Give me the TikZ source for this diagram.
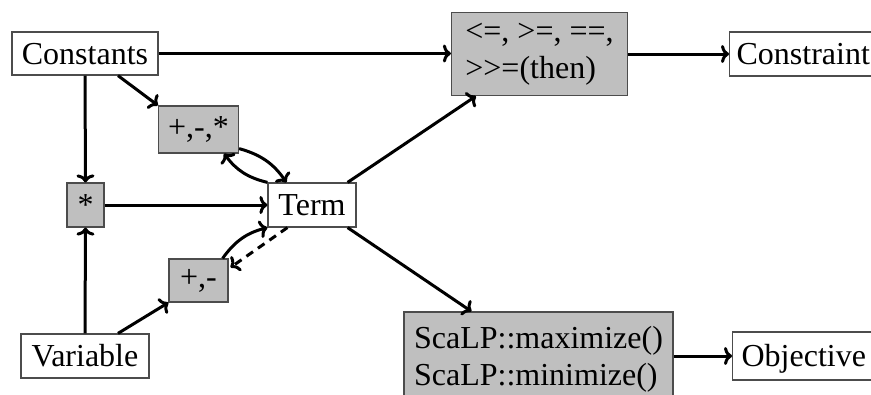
\documentclass[tikz,border=0pt]{standalone}
\usepackage{fontspec}
\setmainfont{Liberation Serif}[Ligatures=TeXOff]
\usetikzlibrary{arrows.meta,calc}

\begin{document}
\begin{tikzpicture}[x=1pt,y=-1pt,
  every node/.style={font=\fontsize{32}{37}\selectfont},
  plain/.style={draw=black!70, line width=1.2pt, fill=white, inner sep=0pt},
  single/.style={plain, text height=21pt, text depth=0pt},
  op/.style={plain, fill=black!25},
  flow/.style={line width=3pt, -{To[length=8pt,width=18pt]}},
  back/.style={flow, dash pattern=on 8pt off 6pt},
]
\useasboundingbox (0,0) rectangle (871,394);
\clip (0,0) rectangle (871,394);

% inputs
\node[single, minimum width=146pt, minimum height=43pt] (cst) at (85,53.5) {Constants};
\node[single, minimum width=128pt, minimum height=44pt] (var) at (85,356) {Variable};

% operators
\node[op, minimum width=80pt, minimum height=47pt] (arith) at (198.5,129.5) {+,-,*};
\node[op, minimum width=37pt, minimum height=44pt] (mul) at (85.5,205) {*};
\node[op, minimum width=59pt, minimum height=43pt] (addsub) at (198.5,280.5) {+,-};
\node[single, minimum width=88pt, minimum height=44pt] (term) at (312,205) {Term};
\node[op, align=left, minimum width=176pt, minimum height=83pt] (cmp) at (539.5,54) {<=, >=, ==,\\>>=(then)};
\node[op, align=left, minimum width=269pt, minimum height=95pt] (opt) at (538.5,359.5) {ScaLP::maximize()\\ScaLP::minimize()};

% results
\node[single, anchor=west, inner xsep=7pt, minimum height=44pt] (cons) at (729,54) {Constraint};
\node[single, anchor=west, inner xsep=9pt, minimum height=48pt] (obj) at (732,356) {Objective};

% connectors
\draw[flow] (cst.east) -- (cst.east -| cmp.west);
\draw[flow] ($(cst.south)+(33,0)$) -- (arith.north west);
\draw[flow] (cst.south) -- (mul.north);
\draw[flow] (var.north) -- (mul.south);
\draw[flow] ($(var.north)+(33,0)$) -- (addsub.south west);
\draw[flow] (mul) -- (term);
\draw[flow] ($(arith.south east)+(0,-5)$) to[bend left=20] ($(term.north west)+(19,0)$);
\draw[flow] (term.north west) to[bend left=20] ($(arith.south east)+(-15,0)$);
\draw[flow] ($(addsub.north east)+(-6,0)$) to[bend left=20] (term.south west);
\draw[back] ($(term.south west)+(20,0)$) -- ($(addsub.north east)+(2,9)$);
\draw[flow] ($(term.north east)+(-9,0)$) -- ($(cmp.south west)+(25,0)$);
\draw[flow] ($(term.south east)+(-9,0)$) -- ($(opt.north west)+(68,0)$);
\draw[flow] (cmp.east |- cons.west) -- (cons.west);
\draw[flow] (opt.east |- obj.west) -- (obj.west);
\end{tikzpicture}
\end{document}
